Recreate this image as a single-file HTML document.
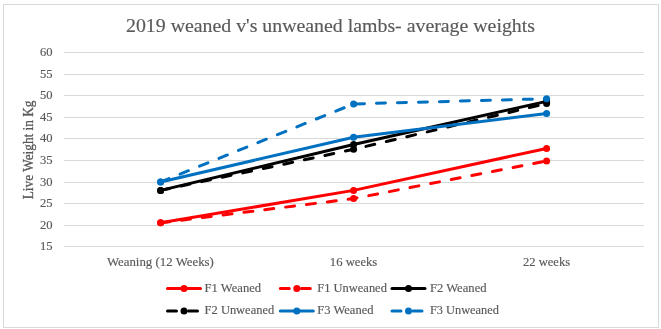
<!DOCTYPE html><html><head><meta charset="utf-8"><style>html,body{margin:0;padding:0;background:#fff;}svg{display:block;will-change:transform;}text{font-family:"Liberation Serif",serif;stroke:#595959;stroke-width:0.15px;}</style></head><body>
<svg width="661" height="329" viewBox="0 0 661 329">
<rect x="0" y="0" width="661" height="329" fill="#fff"/>
<rect x="3.5" y="4.5" width="655" height="323" fill="#fff" stroke="#d9d9d9" stroke-width="1"/>
<text x="126" y="31.8" font-size="18.67" fill="#595959" textLength="409" lengthAdjust="spacingAndGlyphs">2019 weaned v's unweaned lambs- average weights</text>
<line x1="64" y1="52.5" x2="644" y2="52.5" stroke="#d9d9d9" stroke-width="1"/>
<line x1="64" y1="74.5" x2="644" y2="74.5" stroke="#d9d9d9" stroke-width="1"/>
<line x1="64" y1="95.5" x2="644" y2="95.5" stroke="#d9d9d9" stroke-width="1"/>
<line x1="64" y1="117.5" x2="644" y2="117.5" stroke="#d9d9d9" stroke-width="1"/>
<line x1="64" y1="138.5" x2="644" y2="138.5" stroke="#d9d9d9" stroke-width="1"/>
<line x1="64" y1="160.5" x2="644" y2="160.5" stroke="#d9d9d9" stroke-width="1"/>
<line x1="64" y1="182.5" x2="644" y2="182.5" stroke="#d9d9d9" stroke-width="1"/>
<line x1="64" y1="203.5" x2="644" y2="203.5" stroke="#d9d9d9" stroke-width="1"/>
<line x1="64" y1="225.5" x2="644" y2="225.5" stroke="#d9d9d9" stroke-width="1"/>
<line x1="64" y1="246.5" x2="644" y2="246.5" stroke="#d9d9d9" stroke-width="1"/>
<text x="52.5" y="56.2" font-size="12.4" fill="#595959" text-anchor="end" textLength="12.6" lengthAdjust="spacingAndGlyphs">60</text>
<text x="52.5" y="78.2" font-size="12.4" fill="#595959" text-anchor="end" textLength="12.6" lengthAdjust="spacingAndGlyphs">55</text>
<text x="52.5" y="99.2" font-size="12.4" fill="#595959" text-anchor="end" textLength="12.6" lengthAdjust="spacingAndGlyphs">50</text>
<text x="52.5" y="121.2" font-size="12.4" fill="#595959" text-anchor="end" textLength="12.6" lengthAdjust="spacingAndGlyphs">45</text>
<text x="52.5" y="142.2" font-size="12.4" fill="#595959" text-anchor="end" textLength="12.6" lengthAdjust="spacingAndGlyphs">40</text>
<text x="52.5" y="164.2" font-size="12.4" fill="#595959" text-anchor="end" textLength="12.6" lengthAdjust="spacingAndGlyphs">35</text>
<text x="52.5" y="186.2" font-size="12.4" fill="#595959" text-anchor="end" textLength="12.6" lengthAdjust="spacingAndGlyphs">30</text>
<text x="52.5" y="207.2" font-size="12.4" fill="#595959" text-anchor="end" textLength="12.6" lengthAdjust="spacingAndGlyphs">25</text>
<text x="52.5" y="229.2" font-size="12.4" fill="#595959" text-anchor="end" textLength="12.6" lengthAdjust="spacingAndGlyphs">20</text>
<text x="52.5" y="250.2" font-size="12.4" fill="#595959" text-anchor="end" textLength="12.6" lengthAdjust="spacingAndGlyphs">15</text>
<text transform="translate(33,199.3) rotate(-90)" x="0" y="0" font-size="14.3" fill="#595959" style="stroke-width:0.3px" textLength="98.8" lengthAdjust="spacingAndGlyphs">Live Weight in Kg</text>
<text x="106.9" y="266" font-size="12.4" fill="#595959" textLength="107" lengthAdjust="spacingAndGlyphs">Weaning (12 Weeks)</text>
<text x="329.8" y="266" font-size="12.4" fill="#595959" textLength="47.5" lengthAdjust="spacingAndGlyphs">16 weeks</text>
<text x="522.9" y="266" font-size="12.4" fill="#595959" textLength="47.3" lengthAdjust="spacingAndGlyphs">22 weeks</text>
<polyline points="160.60,222.79 353.60,190.38 546.60,148.45" fill="none" stroke="#FF0000" stroke-width="3" stroke-linecap="round" stroke-linejoin="round"/>
<circle cx="160.60" cy="222.79" r="3.5" fill="#FF0000"/>
<circle cx="353.60" cy="190.38" r="3.5" fill="#FF0000"/>
<circle cx="546.60" cy="148.45" r="3.5" fill="#FF0000"/>
<polyline points="160.60,222.79 353.60,198.59 546.60,160.99" fill="none" stroke="#FF0000" stroke-width="3" stroke-linecap="round" stroke-linejoin="round" stroke-dasharray="9 12"/>
<circle cx="160.60" cy="222.79" r="3.5" fill="#FF0000"/>
<circle cx="353.60" cy="198.59" r="3.5" fill="#FF0000"/>
<circle cx="546.60" cy="160.99" r="3.5" fill="#FF0000"/>
<polyline points="160.60,190.38 353.60,144.56 546.60,101.34" fill="none" stroke="#000000" stroke-width="3" stroke-linecap="round" stroke-linejoin="round"/>
<circle cx="160.60" cy="190.38" r="3.5" fill="#000000"/>
<circle cx="353.60" cy="144.56" r="3.5" fill="#000000"/>
<circle cx="546.60" cy="101.34" r="3.5" fill="#000000"/>
<polyline points="160.60,190.38 353.60,149.32 546.60,103.50" fill="none" stroke="#000000" stroke-width="3" stroke-linecap="round" stroke-linejoin="round" stroke-dasharray="9 12"/>
<circle cx="160.60" cy="190.38" r="3.5" fill="#000000"/>
<circle cx="353.60" cy="149.32" r="3.5" fill="#000000"/>
<circle cx="546.60" cy="103.50" r="3.5" fill="#000000"/>
<polyline points="160.60,181.95 353.60,137.22 546.60,113.44" fill="none" stroke="#0070C0" stroke-width="3" stroke-linecap="round" stroke-linejoin="round"/>
<circle cx="160.60" cy="181.95" r="3.5" fill="#0070C0"/>
<circle cx="353.60" cy="137.22" r="3.5" fill="#0070C0"/>
<circle cx="546.60" cy="113.44" r="3.5" fill="#0070C0"/>
<polyline points="160.60,181.95 353.60,103.93 546.60,98.75" fill="none" stroke="#0070C0" stroke-width="3" stroke-linecap="round" stroke-linejoin="round" stroke-dasharray="9 12"/>
<circle cx="160.60" cy="181.95" r="3.5" fill="#0070C0"/>
<circle cx="353.60" cy="103.93" r="3.5" fill="#0070C0"/>
<circle cx="546.60" cy="98.75" r="3.5" fill="#0070C0"/>
<line x1="167.5" y1="288.5" x2="200.5" y2="288.5" stroke="#FF0000" stroke-width="3" stroke-linecap="round"/>
<circle cx="184" cy="288.5" r="3.5" fill="#FF0000"/>
<text x="204.6" y="291.7" font-size="12.4" fill="#595959" textLength="56.6" lengthAdjust="spacingAndGlyphs">F1 Weaned</text>
<line x1="280.3" y1="288.5" x2="313.3" y2="288.5" stroke="#FF0000" stroke-width="3" stroke-linecap="round" stroke-dasharray="9 12"/>
<circle cx="296.8" cy="288.5" r="3.5" fill="#FF0000"/>
<text x="317.3" y="291.7" font-size="12.4" fill="#595959" textLength="69.6" lengthAdjust="spacingAndGlyphs">F1 Unweaned</text>
<line x1="392.0" y1="288.5" x2="425.0" y2="288.5" stroke="#000000" stroke-width="3" stroke-linecap="round"/>
<circle cx="408.5" cy="288.5" r="3.5" fill="#000000"/>
<text x="429.9" y="291.7" font-size="12.4" fill="#595959" textLength="56.7" lengthAdjust="spacingAndGlyphs">F2 Weaned</text>
<line x1="167.5" y1="311.0" x2="200.5" y2="311.0" stroke="#000000" stroke-width="3" stroke-linecap="round" stroke-dasharray="9 12"/>
<circle cx="184" cy="311.0" r="3.5" fill="#000000"/>
<text x="204.6" y="314.2" font-size="12.4" fill="#595959" textLength="69.6" lengthAdjust="spacingAndGlyphs">F2 Unweaned</text>
<line x1="280.3" y1="311.0" x2="313.3" y2="311.0" stroke="#0070C0" stroke-width="3" stroke-linecap="round"/>
<circle cx="296.8" cy="311.0" r="3.5" fill="#0070C0"/>
<text x="317.3" y="314.2" font-size="12.4" fill="#595959" textLength="56.2" lengthAdjust="spacingAndGlyphs">F3 Weaned</text>
<line x1="392.0" y1="311.0" x2="425.0" y2="311.0" stroke="#0070C0" stroke-width="3" stroke-linecap="round" stroke-dasharray="9 12"/>
<circle cx="408.5" cy="311.0" r="3.5" fill="#0070C0"/>
<text x="429.9" y="314.2" font-size="12.4" fill="#595959" textLength="69" lengthAdjust="spacingAndGlyphs">F3 Unweaned</text>
</svg></body></html>
